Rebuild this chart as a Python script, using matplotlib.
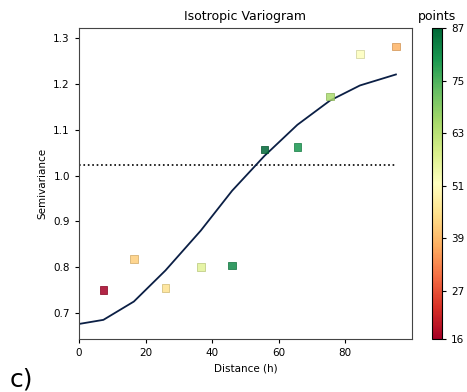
import numpy as np
import matplotlib
matplotlib.use("Agg")
from matplotlib import pyplot as plt
from matplotlib.colors import Normalize

# experimental variogram: bin centres, semivariance, number of point pairs
bins = [7.35, 16.5, 26.0, 36.6, 46.0, 55.7, 65.6, 75.4, 84.4, 95.2]
experimental = [0.750, 0.818, 0.755, 0.800, 0.804, 1.057, 1.063, 1.173, 1.266, 1.282]
counts = [16, 42, 45, 57, 82, 87, 80, 65, 52, 38]

# fitted model evaluated at 0 and at the bin centres
model_x = [0.0] + bins
model_y = [0.676, 0.685, 0.725, 0.793, 0.880, 0.967, 1.043, 1.111, 1.164, 1.197, 1.221]

sill = 1.023
cbar_ticks = [16, 27, 39, 51, 63, 75, 87]

cmap = plt.get_cmap("RdYlGn")
norm = Normalize(vmin=16, vmax=87)
# slightly darker outline around each square
edges = cmap(norm(counts))
edges[:, :3] *= 0.82

fig = plt.figure(figsize=(4.67, 3.92), dpi=100)
ax = fig.add_axes([0.169, 0.135, 0.713, 0.793])
cax = fig.add_axes([0.926, 0.135, 0.021, 0.793])

ax.plot(model_x, model_y, color="#0b1f45", linewidth=1.3, zorder=2)
ax.hlines(sill, 0, max(bins), colors="k", linestyles=":", linewidth=1.2, zorder=1)
sc = ax.scatter(bins, experimental, c=counts, cmap=cmap, norm=norm,
                marker="s", s=30, alpha=0.85, edgecolors=edges, linewidths=0.6,
                zorder=3)

ax.set_xlim(0, 100)
ax.set_ylim(0.643, 1.322)
ax.set_xticks([0, 20, 40, 60, 80])
ax.set_yticks([0.7, 0.8, 0.9, 1.0, 1.1, 1.2, 1.3])
ax.tick_params(labelsize=7.5, length=3)
ax.set_xlabel("Distance (h)", fontsize=7.5)
ax.set_ylabel("Semivariance", fontsize=7.5)
ax.set_title("Isotropic Variogram", fontsize=9)
for sp in ax.spines.values():
    sp.set_color("#444444")

cb = fig.colorbar(sc, cax=cax, ticks=cbar_ticks)
cb.solids.set_alpha(1)
cb.ax.tick_params(labelsize=7.5, length=3)
cb.ax.set_title("points", fontsize=9)

fig.text(0.02, 0.015, "c)", fontsize=18)

fig.savefig("out.png", dpi=100)
